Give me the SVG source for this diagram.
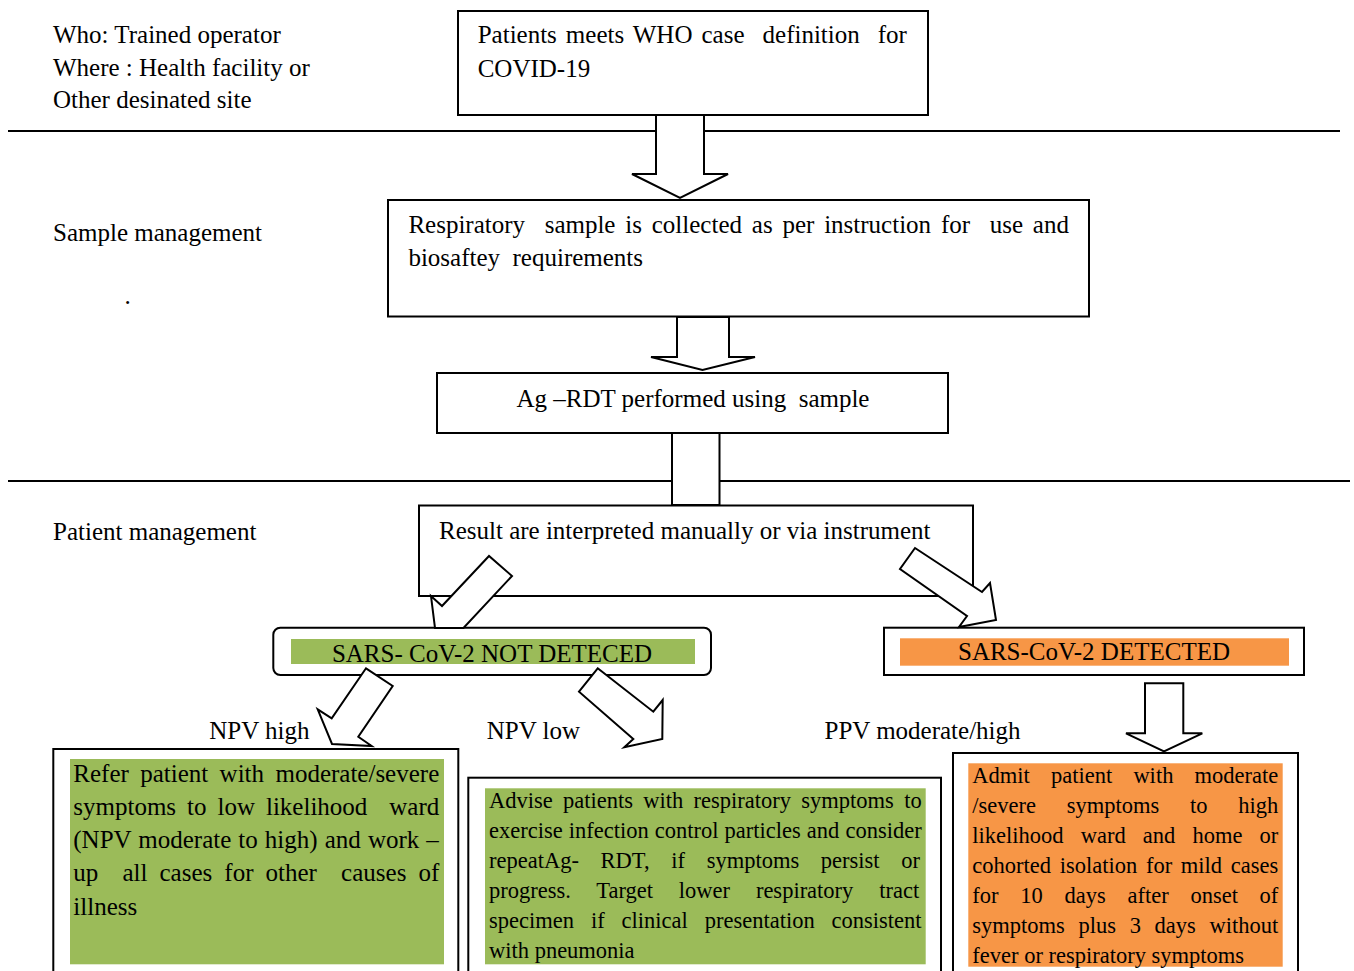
<svg xmlns="http://www.w3.org/2000/svg" width="1354" height="971" viewBox="0 0 1354 971">
<style>
text { font-family: "Liberation Serif", "Times New Roman", serif; font-size: 25px; fill: #000; white-space: pre; }
.s { font-size: 22.5px; }
.box { fill: #fff; stroke: #000; stroke-width: 2; }
.arrow { fill: #fff; stroke: #000; stroke-width: 2; stroke-linejoin: miter; }
.sep { stroke: #000; stroke-width: 2; }
.green { fill: #9bbb59; }
.orange { fill: #f79646; }
</style>
<rect width="1354" height="971" fill="#fff"/>
<g id="lanes">
<line class="sep" x1="8" y1="131" x2="1340" y2="131"/>
<line class="sep" x1="8" y1="481" x2="1350" y2="481"/>
<text x="53" y="42.7">Who: Trained operator</text>
<text x="53" y="75.5">Where : Health facility or</text>
<text x="53" y="108">Other desinated site</text>
<text x="53" y="240.7">Sample management</text>
<text x="124.5" y="304">.</text>
<text x="53" y="540">Patient management</text>
</g>
<g id="node-case">
<rect class="box" x="458" y="11" width="470" height="104"/>
<text x="477.7" y="43.3" style="word-spacing:2.77px">Patients meets WHO case  definition  for</text>
<text x="477.7" y="77.3">COVID-19</text>
</g>
<g id="node-sample">
<rect class="box" x="388" y="200" width="701" height="116.5"/>
<text x="408.4" y="232.5" style="word-spacing:3.56px">Respiratory  sample is collected as per instruction for  use and</text>
<text x="408.4" y="265.5">biosaftey  requirements</text>
</g>
<g id="node-agrdt">
<rect class="box" x="437" y="373" width="511" height="60"/>
<text x="693" y="407.3" text-anchor="middle">Ag –RDT performed using  sample</text>
</g>
<g id="node-result">
<rect class="box" x="419" y="505.5" width="554" height="90.5"/>
<text x="439" y="539">Result are interpreted manually or via instrument</text>
</g>
<g id="node-not-detected">
<rect class="box" x="273.3" y="627.7" width="437.7" height="47.3" rx="7"/>
<rect class="green" x="291" y="639" width="404" height="25"/>
<text x="492" y="661.5" text-anchor="middle">SARS- CoV-2 NOT DETECED</text>
</g>
<g id="node-detected">
<rect class="box" x="884" y="627.7" width="420" height="47.3"/>
<rect class="orange" x="900" y="638.3" width="389" height="27.4"/>
<text x="1094" y="660" text-anchor="middle">SARS-CoV-2 DETECTED</text>
</g>
<g id="node-npv-high">
<rect class="box" x="53.3" y="749" width="405" height="240"/>
<rect class="green" x="70" y="759" width="374" height="205.3"/>
<text x="73.3" y="781.7" style="word-spacing:5.13px">Refer patient with moderate/severe</text>
<text x="73.3" y="815" style="word-spacing:4.72px">symptoms to low likelihood  ward</text>
<text x="73.3" y="848" style="word-spacing:0.83px">(NPV moderate to high) and work –</text>
<text x="73.3" y="881" style="word-spacing:5.83px">up  all cases for other  causes of</text>
<text x="73.3" y="914.5">illness</text>
</g>
<g id="node-npv-low">
<rect class="box" x="468.3" y="777.7" width="472.7" height="210"/>
<rect class="green" x="485" y="788.3" width="440.7" height="176"/>
<text class="s" x="489" y="808.3" style="word-spacing:4.66px">Advise patients with respiratory symptoms to</text>
<text class="s" x="489" y="838.3" style="word-spacing:0.44px">exercise infection control particles and consider</text>
<text class="s" x="489" y="868.3" style="word-spacing:16.04px">repeatAg- RDT, if symptoms persist or</text>
<text class="s" x="489" y="898.3" style="word-spacing:20.2px">progress. Target lower respiratory tract</text>
<text class="s" x="489" y="928.3" style="word-spacing:11.3px">specimen if clinical presentation consistent</text>
<text class="s" x="489" y="958.3">with pneumonia</text>
</g>
<g id="node-ppv">
<rect class="box" x="953" y="753" width="345" height="230"/>
<rect class="orange" x="968.3" y="763.3" width="314.4" height="203.4"/>
<text class="s" x="972.3" y="783.3" style="word-spacing:15.55px">Admit patient with moderate</text>
<text class="s" x="972.3" y="812.7" style="word-spacing:25.1px">/severe symptoms to high</text>
<text class="s" x="972.3" y="842.7" style="word-spacing:11.5px">likelihood ward and home or</text>
<text class="s" x="972.3" y="872.7" style="word-spacing:3.07px">cohorted isolation for mild cases</text>
<text class="s" x="972.3" y="902.7" style="word-spacing:16.1px">for 10 days after onset of</text>
<text class="s" x="972.3" y="932.7" style="word-spacing:8.05px">symptoms plus 3 days without</text>
<text class="s" x="972.3" y="962.7">fever or respiratory symptoms</text>
</g>
<g id="connectors">
<polygon class="arrow" points="656,115 656,174 632,174 680,198 728,174 704,174 704,115"/>
<polygon class="arrow" points="677,317 677,357 651,357 702.5,370 755,357 729,357 729,317"/>
<rect class="arrow" x="672" y="433" width="47.5" height="72"/>
<polygon class="arrow" points="489,556 442,606 431,596 435,628 463.5,628 512,576"/>
<polygon class="arrow" points="915,548 982,592 990,583 996,620 959,627 967,616 900,569"/>
<polygon class="arrow" points="366,668.3 392.7,686 358.3,736.7 371.7,746 332,744 317.7,709.3 331.7,718.3"/>
<polygon class="arrow" points="597.7,668.3 653.3,711.7 662.7,700 662.3,739 624.3,747.3 633.3,739 579,691.7"/>
<polygon class="arrow" points="1145,683.3 1145,733.3 1126,733.3 1164,751.5 1202.3,733.3 1183.3,733.3 1183.3,683.3"/>
</g>
<g id="edge-labels">
<text x="209.3" y="739">NPV high</text>
<text x="486.7" y="739">NPV low</text>
<text x="824.5" y="739">PPV moderate/high</text>
</g>
</svg>
